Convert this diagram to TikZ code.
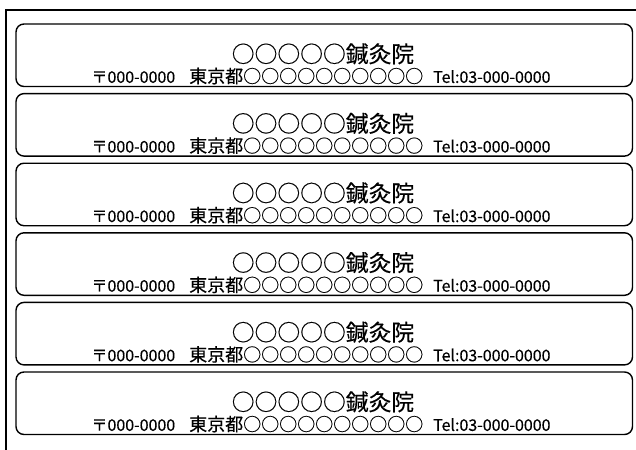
\documentclass[tikz,border=0pt]{standalone}
\usepackage{fontspec}
\setmainfont{Noto Sans CJK JP}[FakeBold=0.3]
\newcommand{\latinpart}[1]{{\fontsize{16}{16}\selectfont #1}}
\begin{document}
\begin{tikzpicture}[x=1pt,y=-1pt,
  card/.style={draw=black,line width=1.4pt,rounded corners=8pt},
  frame/.style={draw=black,line width=2pt},
  titletext/.style={font=\fontsize{22.8}{22.8}\selectfont,inner sep=0pt},
  addrtext/.style={font=\fontsize{18}{18}\selectfont,inner sep=0pt}]
\useasboundingbox (0,0) rectangle (636,449);
\draw[frame] (6,452) -- (6,10) -- (640,10);
\foreach \i in {0,...,5}{
  \pgfmathsetmacro{\yt}{24+69.6*\i}
  \draw[card] (16,\yt) rectangle (632.5,\yt+62.5);
  \node[titletext] (t\i) at (323,\yt+30) {○○○○○鍼灸院};
  \node[addrtext] (a\i) at (321,\yt+52) {\latinpart{〒000-0000}\hspace{14pt}東京都○○○○○○○○○○\hspace{10pt}\latinpart{Tel:03-000-0000}};
}
\end{tikzpicture}
\end{document}
